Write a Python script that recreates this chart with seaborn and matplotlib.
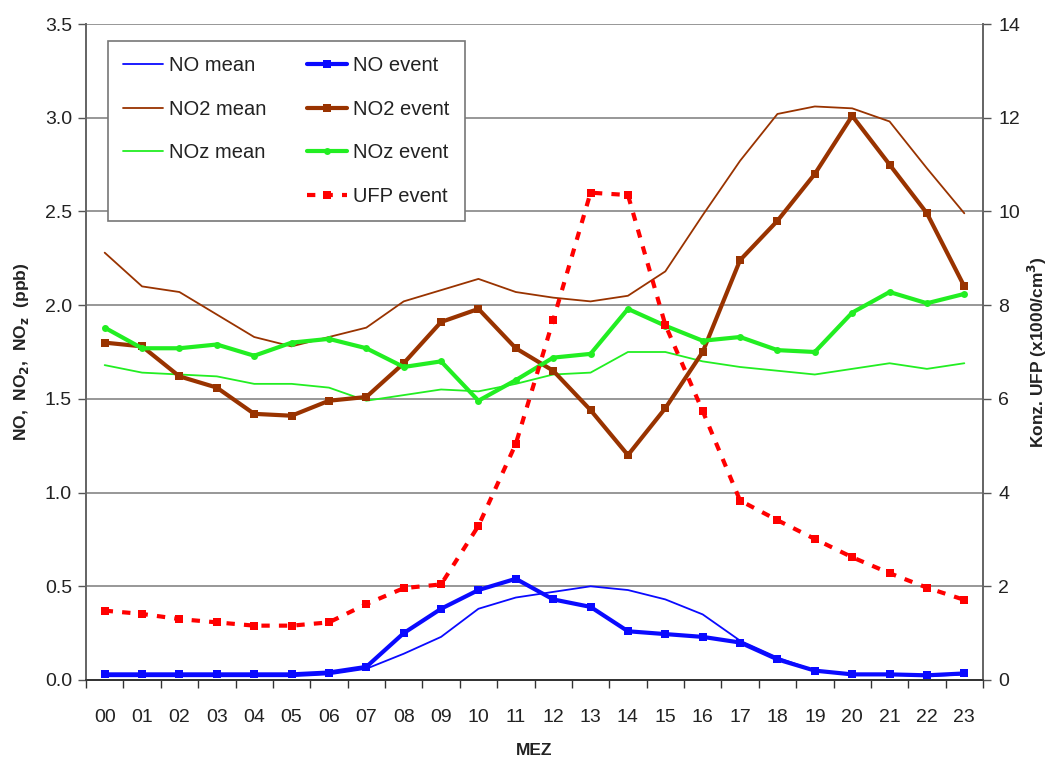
import numpy as np
import pandas as pd
import matplotlib
matplotlib.use("Agg")
import matplotlib.pyplot as plt
from matplotlib.lines import Line2D
from matplotlib.ticker import FixedLocator
import seaborn as sns

hours = ["00", "01", "02", "03", "04", "05", "06", "07", "08", "09", "10", "11",
         "12", "13", "14", "15", "16", "17", "18", "19", "20", "21", "22", "23"]

no_mean = [0.02, 0.02, 0.02, 0.02, 0.02, 0.02, 0.03, 0.06, 0.14, 0.23, 0.38, 0.44,
           0.47, 0.50, 0.48, 0.43, 0.35, 0.21, 0.12, 0.05, 0.03, 0.03, 0.02, 0.03]
no_event = [0.03, 0.03, 0.03, 0.03, 0.03, 0.03, 0.04, 0.07, 0.25, 0.38, 0.48, 0.54,
            0.43, 0.39, 0.26, 0.245, 0.23, 0.20, 0.11, 0.05, 0.03, 0.03, 0.025, 0.035]
no2_mean = [2.28, 2.10, 2.07, 1.95, 1.83, 1.78, 1.83, 1.88, 2.02, 2.08, 2.14, 2.07,
            2.04, 2.02, 2.05, 2.18, 2.48, 2.77, 3.02, 3.06, 3.05, 2.98, 2.73, 2.49]
no2_event = [1.80, 1.78, 1.62, 1.56, 1.42, 1.41, 1.49, 1.51, 1.69, 1.91, 1.98, 1.77,
             1.65, 1.44, 1.20, 1.45, 1.75, 2.24, 2.45, 2.70, 3.01, 2.75, 2.49, 2.10]
noz_mean = [1.68, 1.64, 1.63, 1.62, 1.58, 1.58, 1.56, 1.49, 1.52, 1.55, 1.54, 1.58,
            1.63, 1.64, 1.75, 1.75, 1.70, 1.67, 1.65, 1.63, 1.66, 1.69, 1.66, 1.69]
noz_event = [1.88, 1.77, 1.77, 1.79, 1.73, 1.80, 1.82, 1.77, 1.67, 1.70, 1.49, 1.60,
             1.72, 1.74, 1.98, 1.89, 1.81, 1.83, 1.76, 1.75, 1.96, 2.07, 2.01, 2.06]
ufp_event = [1.48, 1.41, 1.30, 1.23, 1.16, 1.16, 1.23, 1.62, 1.96, 2.04, 3.29, 5.04,
             7.68, 10.40, 10.35, 7.58, 5.74, 3.83, 3.41, 3.01, 2.62, 2.28, 1.97, 1.71]

FONT = ["Liberation Sans", "DejaVu Sans"]
sns.set_theme(style="white")
plt.rcParams["font.family"] = FONT

df = pd.DataFrame({
    "pos": np.arange(len(hours)),
    "no_mean": no_mean, "no_event": no_event,
    "no2_mean": no2_mean, "no2_event": no2_event,
    "noz_mean": noz_mean, "noz_event": noz_event,
    "ufp_event": ufp_event,
})

fig = plt.figure(figsize=(10.61, 7.65), dpi=100)
ax = fig.add_axes([86 / 1061, (765 - 680) / 765, (983 - 86) / 1061, (680 - 24) / 765])
ax2 = ax.twinx()

BLUE = "#0a0aff"
BROWN = "#993300"
GREEN = "#22ee22"
RED = "#ff0000"

thin = 1.3
thick = 3.0

sns.lineplot(data=df, x="pos", y="no_mean", ax=ax, color=BLUE, linewidth=thin, label="NO mean")
sns.lineplot(data=df, x="pos", y="no2_mean", ax=ax, color=BROWN, linewidth=thin, label="NO2 mean")
sns.lineplot(data=df, x="pos", y="noz_mean", ax=ax, color=GREEN, linewidth=thin, label="NOz mean")
sns.lineplot(data=df, x="pos", y="no_event", ax=ax, color=BLUE, linewidth=thick,
             marker="s", markersize=6, markeredgewidth=0, label="NO event")
sns.lineplot(data=df, x="pos", y="no2_event", ax=ax, color=BROWN, linewidth=thick,
             marker="s", markersize=6, markeredgewidth=0, label="NO2 event")
sns.lineplot(data=df, x="pos", y="noz_event", ax=ax, color=GREEN, linewidth=thick,
             marker="o", markersize=5, markeredgewidth=0, label="NOz event")
sns.lineplot(data=df, x="pos", y="ufp_event", ax=ax2, color=RED, linewidth=3.0,
             linestyle=(0, (2, 2.2)), marker="s", markersize=6, markeredgewidth=0,
             label="UFP event")

# axes limits
ax.set_xlim(-0.5, len(hours) - 0.5)
ax.set_ylim(0, 3.5)
ax2.set_ylim(0, 14)

# ticks
ax.set_xticks(np.arange(len(hours)))
ax.set_xticklabels(hours)
ax.xaxis.set_minor_locator(FixedLocator(np.arange(-0.5, len(hours), 1.0)))
ax.tick_params(axis="x", which="major", length=0, pad=21, labelsize=14, colors="#222222")
ax.tick_params(axis="x", which="minor", length=6, width=1, color="#333333", direction="out", bottom=True)
ax.set_yticks(np.arange(0, 3.51, 0.5))
ax.set_yticklabels([f"{v:.1f}" for v in np.arange(0, 3.51, 0.5)])
ax.tick_params(axis="y", which="major", length=6, width=1, color="#555555", direction="out",
               left=True, labelsize=14, labelcolor="#222222", pad=4)
ax2.set_yticks(np.arange(0, 15, 2))
ax2.tick_params(axis="y", which="major", length=6, width=1, color="#555555", direction="out",
                right=True, labelsize=14, labelcolor="#222222", pad=5)

# grid
ax.grid(False)
ax2.grid(False)
for v in np.arange(0.5, 3.51, 0.5):
    ax.axhline(v, color="#7a7a7a", linewidth=1.1, zorder=0)

for sp in ["left", "right"]:
    ax.spines[sp].set_color("#666666")
    ax2.spines[sp].set_color("#666666")
    ax.spines[sp].set_linewidth(1.3)
    ax2.spines[sp].set_linewidth(1.3)
ax.spines["top"].set_visible(False)
ax2.spines["top"].set_visible(False)
ax.spines["bottom"].set_color("#333333")
ax2.spines["bottom"].set_color("#333333")
ax.spines["bottom"].set_linewidth(1.3)

# labels
ax.set_xlabel("MEZ", fontsize=12.5, fontweight="bold", labelpad=12, color="#222222")
ax.set_ylabel("NO,  NO$_\\mathbf{2}$,  NO$_\\mathbf{z}$  (ppb)", fontsize=12.5, fontweight="bold",
              labelpad=10, color="#222222")
ax2.set_ylabel("Konz. UFP (x1000/cm$^\\mathbf{3}$)", fontsize=12.5, fontweight="bold",
               labelpad=4, color="#222222")

# legend
if ax.get_legend() is not None:
    ax.get_legend().remove()
if ax2.get_legend() is not None:
    ax2.get_legend().remove()
h1, l1 = ax.get_legend_handles_labels()
h2, l2 = ax2.get_legend_handles_labels()
hmap = dict(zip(l1 + l2, h1 + h2))
blank = Line2D([], [], linestyle="none", marker=None)
order_handles = [hmap["NO mean"], hmap["NO2 mean"], hmap["NOz mean"], blank,
                 hmap["NO event"], hmap["NO2 event"], hmap["NOz event"], hmap["UFP event"]]
order_labels = ["NO mean", "NO2 mean", "NOz mean", "",
                "NO event", "NO2 event", "NOz event", "UFP event"]
leg = ax2.legend(order_handles, order_labels, ncol=2, loc="upper left",
                 bbox_to_anchor=((108 - 86) / 897, 1 - (41 - 24) / 656),
                 fontsize=14.5, frameon=True, fancybox=False, framealpha=1,
                 edgecolor="#777777", handlelength=2.0, handletextpad=0.3,
                 columnspacing=2.0, labelspacing=1.22, borderpad=0.75, borderaxespad=0)
leg.get_frame().set_linewidth(1.2)
for t in leg.get_texts():
    t.set_color("#222222")

fig.savefig("out.png", dpi=100)
